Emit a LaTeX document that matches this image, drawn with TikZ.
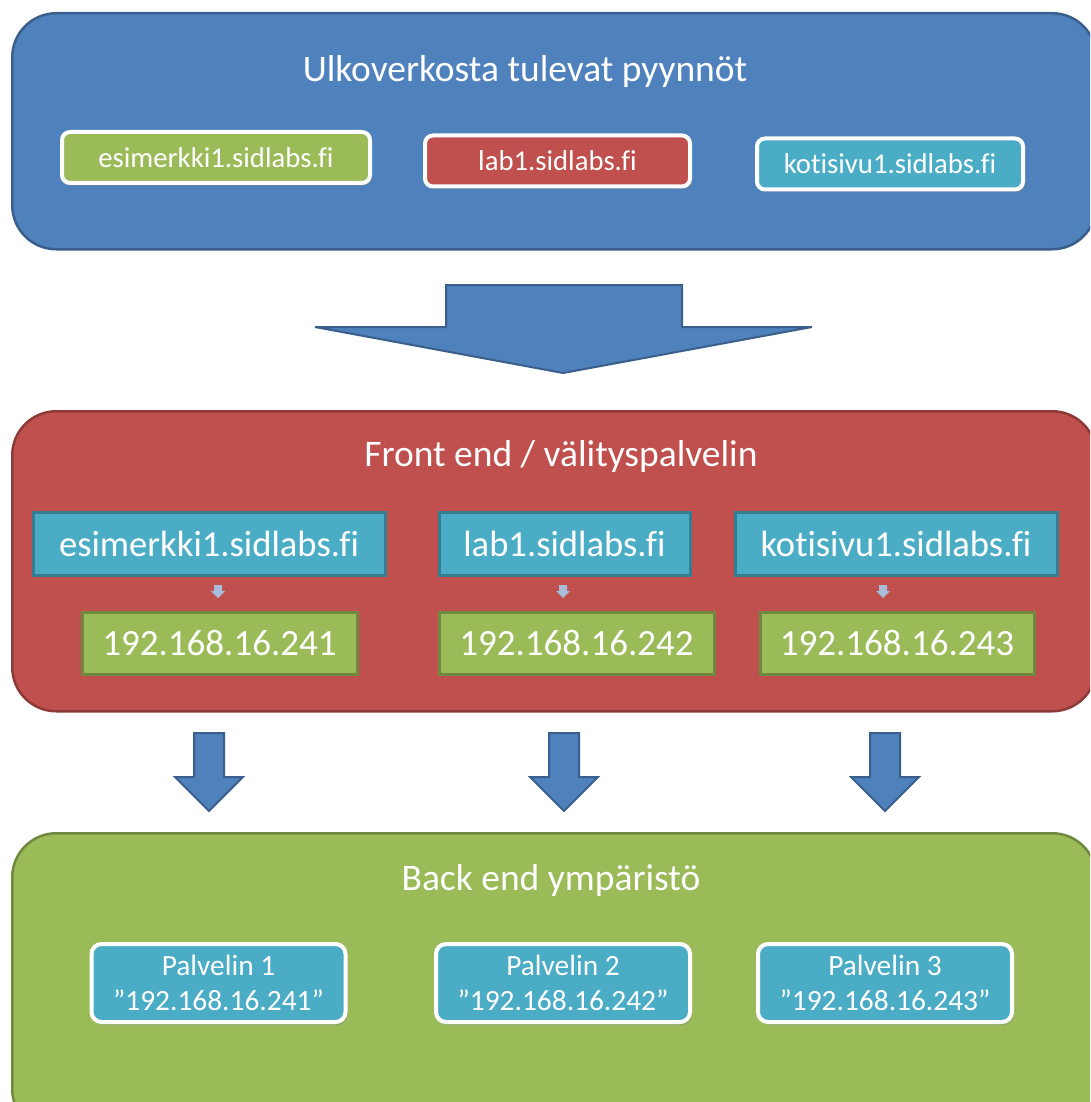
\documentclass[tikz,border=0pt]{standalone}
\usepackage{fontspec}
\setmainfont{Carlito}[Ligatures=NoCommon]
\usetikzlibrary{shadows}

\definecolor{pblue}{HTML}{4F81BD}
\definecolor{pblueline}{HTML}{3A5F8C}
\definecolor{pred}{HTML}{C0504D}
\definecolor{predline}{HTML}{8E3A38}
\definecolor{pgreen}{HTML}{9BBB59}
\definecolor{pgreenline}{HTML}{71893F}
\definecolor{pcyan}{HTML}{4BACC6}
\definecolor{pcyanline}{HTML}{357D91}
\definecolor{pale}{HTML}{A9BCDA}

\tikzset{
  panel/.style={draw, line width=2.5pt, rounded corners=44pt, anchor=north west, inner sep=0pt},
  paneltitle/.style={text=white, font=\fontsize{37.5}{42}\selectfont, inner sep=0pt},
  tag/.style={draw=white, line width=4pt, rounded corners=8pt, inner sep=0pt,
    text=white, font=\fontsize{28.7}{33}\selectfont,
    drop shadow={opacity=0.35, shadow xshift=2pt, shadow yshift=-3pt}},
  hostbox/.style={draw=pcyanline, fill=pcyan, line width=3pt, inner sep=0pt,
    minimum height=63pt, text=white, font=\fontsize{36.6}{40}\selectfont},
  ipbox/.style={draw=pgreenline, fill=pgreen, line width=3pt, inner sep=0pt,
    minimum height=62pt, text=white, font=\fontsize{37}{40}\selectfont},
  server/.style={draw=white, line width=4pt, rounded corners=10pt, fill=pcyan,
    inner sep=0pt, minimum width=254pt, minimum height=78pt, align=center,
    text=white, font=\fontsize{29.4}{35.5}\selectfont,
    drop shadow={opacity=0.35, shadow xshift=2pt, shadow yshift=-3pt}},
  blockarrow/.style={draw=pblueline, fill=pblue, line width=2pt, line join=miter},
  minor/.style={fill=pale}
}

\begin{document}
\begin{tikzpicture}[x=1pt,y=-1pt]
\useasboundingbox (0,0) rectangle (1090,1102);
\begin{scope}
\clip (0,0) rectangle (1090,1102);

% ---- external requests ----
\node[panel, draw=pblueline, fill=pblue, minimum width=1084pt, minimum height=236pt] (outer) at (11,12) {};
\node[paneltitle] (outtitle) at (525,72) {Ulkoverkosta tulevat pyynnöt};
\node[tag, fill=pgreen, minimum width=308pt, minimum height=51pt] (reqA) at (216,157.5) {esimerkki1.sidlabs.fi};
\node[tag, fill=pred, minimum width=265pt, minimum height=51pt] (reqB) at (557.5,161) {lab1.sidlabs.fi};
\node[tag, fill=pcyan, minimum width=266pt, minimum height=51pt] (reqC) at (890,164) {kotisivu1.sidlabs.fi};

% ---- large arrow into the front end ----
\draw[blockarrow] (446,285) -- (682,285) -- (682,327) -- (812,327) -- (563,373)
  -- (315,327) -- (446,327) -- cycle;

% ---- front end / proxy ----
\node[panel, draw=predline, fill=pred, minimum width=1084pt, minimum height=300pt] (front) at (11,410) {};
\node[paneltitle] (fronttitle) at (561,456) {Front end / välityspalvelin};

\node[hostbox, minimum width=352pt] (hostA) at (209,543.5) {esimerkki1.sidlabs.fi};
\node[hostbox, minimum width=251pt] (hostB) at (564.5,543.5) {lab1.sidlabs.fi};
\node[hostbox, minimum width=322pt] (hostC) at (896,543.5) {kotisivu1.sidlabs.fi};

\node[ipbox, minimum width=275pt] (ipA) at (219.5,643) {192.168.16.241};
\node[ipbox, minimum width=275pt] (ipB) at (576.5,643) {192.168.16.242};
\node[ipbox, minimum width=274pt] (ipC) at (897,643) {192.168.16.243};

% small pointers from host name to address
\foreach \x in {218,563,883}{
  \fill[minor] (\x-4,585) -- (\x+4,585) -- (\x+4,591) -- (\x+7,591) -- (\x,598)
    -- (\x-7,591) -- (\x-4,591) -- cycle;
}

% ---- arrows to the back end ----
\foreach \x in {209,564,885}{
  \draw[blockarrow] (\x-15,733) -- (\x+15,733) -- (\x+15,777) -- (\x+34,777)
    -- (\x,811) -- (\x-34,777) -- (\x-15,777) -- cycle;
}

% ---- back end ----
\node[panel, draw=pgreenline, fill=pgreen, minimum width=1084pt, minimum height=300pt] (back) at (11,832) {};
\node[paneltitle] (backtitle) at (551,880) {Back end ympäristö};

\node[server] (srvA) at (218.5,983) {Palvelin 1\\”192.168.16.241”};
\node[server] (srvB) at (563,983) {Palvelin 2\\”192.168.16.242”};
\node[server] (srvC) at (885,983) {Palvelin 3\\”192.168.16.243”};
\end{scope}
\end{tikzpicture}
\end{document}
